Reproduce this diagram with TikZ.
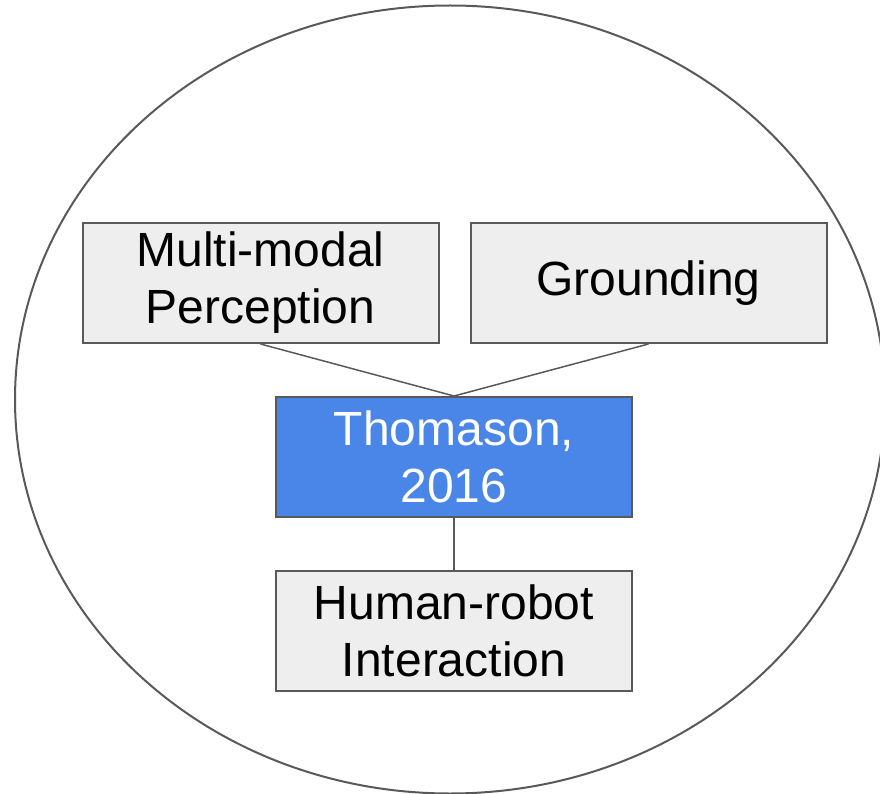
\documentclass[tikz,border=0pt]{standalone}
\usepackage{fontspec}
\setmainfont{Liberation Sans}
\usetikzlibrary{shapes.geometric}
\definecolor{mygrey}{HTML}{595959}
\definecolor{myfill}{HTML}{EEEEEE}
\definecolor{myblue}{HTML}{4A86E8}

\begin{document}
\begin{tikzpicture}[x=1pt, y=-1pt]
\tikzset{BoxStyle/.style =
    {draw=mygrey, line width=2pt, fill=myfill, shape=rectangle, minimum width=356pt, minimum height=120pt,
     inner sep=0pt, align=center, font=\fontsize{48}{57}\selectfont}
}
\tikzset{MainStyle/.style = {BoxStyle, fill=myblue, text=white}}
\tikzset{EdgeStyle/.style = {draw=mygrey, line width=1.5pt}}
\useasboundingbox (0,0) rectangle (880,794);
\draw[mygrey, line width=2pt] (450,399.5) ellipse [x radius=435pt, y radius=394pt];
\node[BoxStyle] (T-perc) at (260.5,283) {Multi-modal\\Perception};
\node[BoxStyle] (T-ground) at (648.5,283) {Grounding};
\node[MainStyle] (T-main) at (454,457) {Thomason,\\2016};
\node[BoxStyle] (T-hri) at (454,631) {Human-robot\\Interaction};
\draw[EdgeStyle] (T-perc.south) to (T-main.north);
\draw[EdgeStyle] (T-ground.south) to (T-main.north);
\draw[EdgeStyle] (T-main) to (T-hri);
\end{tikzpicture}
\end{document}
